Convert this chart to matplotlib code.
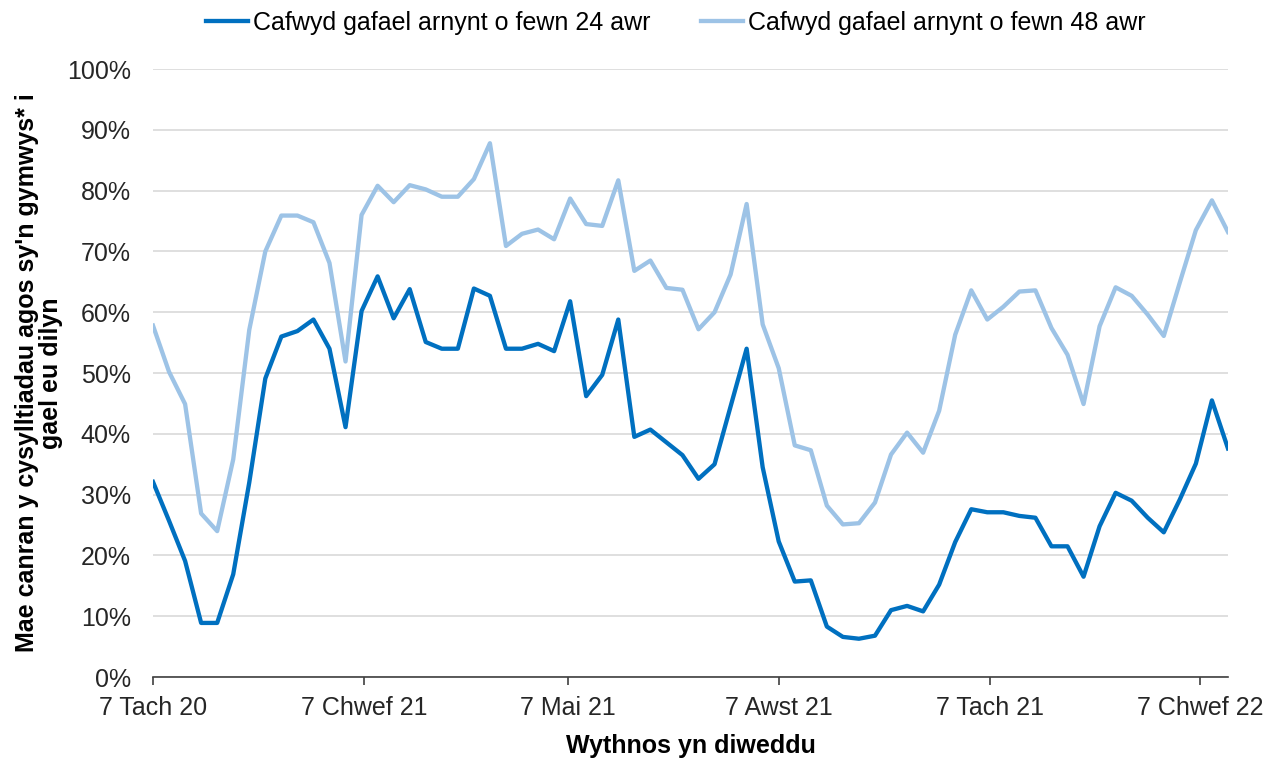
import pandas as pd
import matplotlib
matplotlib.use('Agg')
import matplotlib.pyplot as plt
import matplotlib.dates as mdates

# Week ending dates (weekly from 7 Nov 2020)
weeks = pd.date_range('2020-11-07', periods=68, freq='7D')

within_24h = [
    32.1, 25.7, 19.1, 8.9, 8.9, 16.9, 32.0, 49.1, 56.0, 56.9,
    58.8, 54.0, 41.1, 60.2, 65.9, 59.0, 63.8, 55.1, 54.0, 54.0,
    63.9, 62.7, 54.0, 54.0, 54.8, 53.6, 61.8, 46.2, 49.7, 58.8,
    39.5, 40.7, 38.6, 36.5, 32.6, 35.0, 44.5, 54.0, 34.5, 22.3,
    15.7, 15.9, 8.3, 6.6, 6.3, 6.8, 11.0, 11.7, 10.8, 15.2,
    22.2, 27.6, 27.1, 27.1, 26.5, 26.2, 21.5, 21.5, 16.5, 24.8,
    30.3, 29.0, 26.2, 23.8, 29.2, 35.1, 45.5, 37.6,
]
within_48h = [
    57.8, 50.2, 44.9, 26.9, 24.0, 35.8, 57.1, 70.0, 75.9, 75.9,
    74.8, 68.1, 51.9, 76.0, 80.8, 78.1, 80.9, 80.2, 79.0, 79.0,
    81.9, 87.8, 70.9, 72.9, 73.6, 72.0, 78.7, 74.5, 74.2, 81.7,
    66.8, 68.5, 64.0, 63.7, 57.2, 60.0, 66.2, 77.8, 58.0, 50.8,
    38.1, 37.3, 28.2, 25.1, 25.3, 28.7, 36.6, 40.2, 36.9, 43.8,
    56.3, 63.6, 58.8, 60.9, 63.4, 63.6, 57.4, 53.0, 44.9, 57.7,
    64.1, 62.7, 59.6, 56.1, 64.9, 73.5, 78.4, 73.2,
]

tick_dates = pd.to_datetime(['2020-11-07', '2021-02-07', '2021-05-07',
                             '2021-08-07', '2021-11-07', '2022-02-07'])
tick_labels = ['7 Tach 20', '7 Chwef 21', '7 Mai 21',
               '7 Awst 21', '7 Tach 21', '7 Chwef 22']
series_names = ['Cafwyd gafael arnynt o fewn 24 awr',
                'Cafwyd gafael arnynt o fewn 48 awr']

plt.rcParams['font.family'] = ['Liberation Sans', 'DejaVu Sans']
plt.rcParams['font.size'] = 18

fig = plt.figure(figsize=(12.75, 7.62), dpi=100)
ax = fig.add_axes([0.12, 0.1115, 0.8431, 0.7979])

ax.plot(weeks, [v / 100 for v in within_24h], color='#0070C0', lw=3.1,
        label=series_names[0])
ax.plot(weeks, [v / 100 for v in within_48h], color='#9DC3E6', lw=3.1,
        label=series_names[1])

ax.set_ylim(0, 1)
ax.set_xlim(weeks[0], weeks[-1])
ax.set_yticks([i / 10 for i in range(11)])
ax.set_yticklabels([f'{i * 10}%' for i in range(11)], color='#262626')
ax.set_xticks(mdates.date2num(tick_dates))
ax.set_xticklabels(tick_labels, color='#262626')

ax.grid(axis='y', color='#D9D9D9', lw=1.2)
ax.set_axisbelow(True)
for s in ['left', 'right', 'top']:
    ax.spines[s].set_visible(False)
ax.spines['bottom'].set_color('#404040')
ax.spines['bottom'].set_linewidth(1.2)
ax.tick_params(axis='y', length=0, pad=16)
ax.tick_params(axis='x', length=6, width=1.2, color='#404040', pad=8)

ax.set_xlabel('Wythnos yn diweddu', fontweight='bold', labelpad=10)
ax.set_ylabel("Mae canran y cysylltiadau agos sy'n gymwys* i\ngael eu dilyn",
              fontweight='bold', labelpad=3, linespacing=1.0)

fig.legend(loc='center', bbox_to_anchor=(0.53, 0.97), ncol=2, frameon=False,
           handlelength=1.7, handletextpad=0.2, columnspacing=2.0)

fig.savefig('out.png', dpi=100)
